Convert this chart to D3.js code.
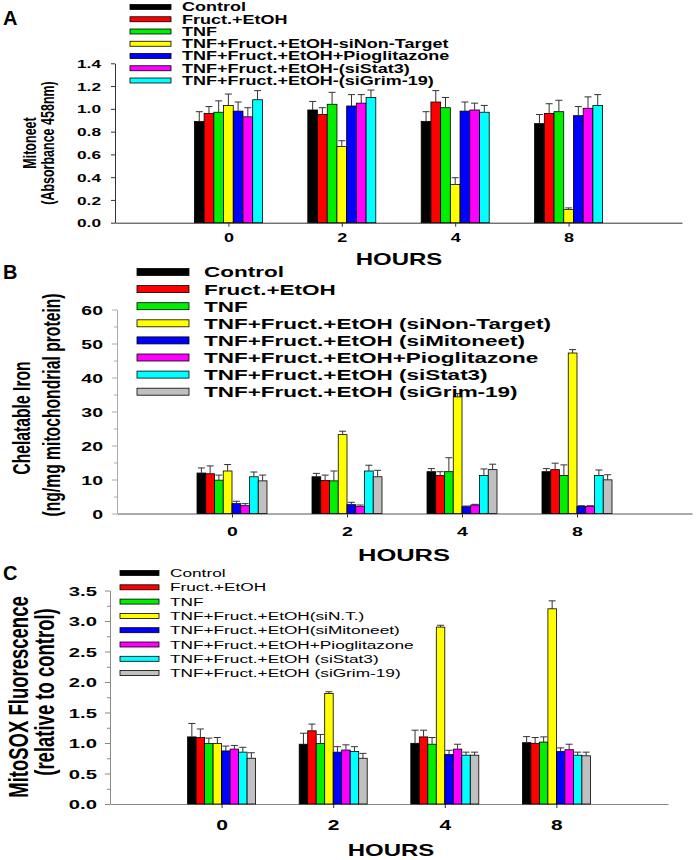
<!DOCTYPE html>
<html>
<head>
<meta charset="UTF-8">
<script src="https://d3js.org/d3.v7.min.js"></script>
<style>
  body { margin: 0; background: #fff; }
  svg text { font-family: "Liberation Sans", Arial, sans-serif; fill: #000; }
</style>
</head>
<body>
<script>
// ---- data ----
const hours = ["0", "2", "4", "8"];

// panel A : Mitoneet
const seriesA = ["Control", "Fruct.+EtOH", "TNF", "TNF+Fruct.+EtOH-siNon-Target",
  "TNF+Fruct.+EtOH+Pioglitazone", "TNF+Fruct.+EtOH-(siStat3)", "TNF+Fruct.+EtOH-(siGrim-19)"];
const colorsA = ["#000000", "#ff0000", "#00ee00", "#ffff00", "#0000ff", "#ff00ff", "#00ffff"];
const valuesA = [
  [0.89, 0.99, 0.89, 0.87],
  [0.96, 0.95, 1.06, 0.96],
  [0.97, 1.04, 1.01, 0.975],
  [1.03, 0.67, 0.335, 0.115],
  [0.98, 1.025, 0.98, 0.94],
  [0.93, 1.05, 0.99, 1.005],
  [1.08, 1.10, 0.97, 1.03]
];
const errorsA = [
  [0.085, 0.075, 0.085, 0.08],
  [0.06, 0.06, 0.10, 0.085],
  [0.10, 0.105, 0.09, 0.10],
  [0.10, 0.05, 0.06, 0.015],
  [0.08, 0.10, 0.08, 0.08],
  [0.08, 0.075, 0.06, 0.10],
  [0.08, 0.065, 0.06, 0.095]
];
const ticksA = [0, 0.2, 0.4, 0.6, 0.8, 1.0, 1.2, 1.4];

// panel B : chelatable iron
const seriesB = ["Control", "Fruct.+EtOH", "TNF", "TNF+Fruct.+EtOH (siNon-Target)",
  "TNF+Fruct.+EtOH (siMitoneet)", "TNF+Fruct.+EtOH+Pioglitazone",
  "TNF+Fruct.+EtOH (siStat3)", "TNF+Fruct.+EtOH (siGrim-19)"];
const colorsB = ["#000000", "#ff0000", "#00ee00", "#ffff00", "#0000ff", "#ff00ff", "#00ffff", "#c0c0c0"];
const valuesB = [
  [11.9, 10.8, 12.3, 12.3],
  [11.7, 9.7, 11.2, 12.9],
  [9.8, 9.6, 12.3, 11.2],
  [12.5, 23.2, 34.3, 47.2],
  [2.9, 2.6, 2.0, 2.1],
  [2.3, 2.1, 2.5, 2.1],
  [10.8, 12.5, 11.2, 11.2],
  [9.6, 10.8, 12.9, 9.9]
];
const errorsB = [
  [1.5, 1.0, 0.9, 0.9],
  [2.3, 1.6, 1.1, 1.9],
  [1.5, 2.9, 4.1, 3.1],
  [1.9, 1.0, 1.0, 1.0],
  [0.7, 0.7, 0.2, 0.2],
  [0.6, 0.4, 0.2, 0.2],
  [1.4, 1.7, 1.9, 1.6],
  [1.7, 1.9, 1.6, 1.5]
];
const ticksB = [0, 10, 20, 30, 40, 50, 60];
const minorB = [5, 15, 25, 35, 45, 55];

// panel C : MitoSOX
const seriesC = ["Control", "Fruct.+EtOH", "TNF", "TNF+Fruct.+EtOH(siN.T.)",
  "TNF+Fruct.+EtOH(siMitoneet)", "TNF+Fruct.+EtOH+Pioglitazone",
  "TNF+Fruct.+EtOH (siStat3)", "TNF+Fruct.+EtOH (siGrim-19)"];
const colorsC = colorsB;
const valuesC = [
  [1.10, 0.98, 0.995, 1.005],
  [1.09, 1.20, 1.10, 0.995],
  [0.99, 0.99, 0.98, 1.015],
  [0.99, 1.81, 2.90, 3.20],
  [0.87, 0.85, 0.81, 0.86],
  [0.90, 0.885, 0.90, 0.89],
  [0.85, 0.86, 0.80, 0.80],
  [0.75, 0.75, 0.80, 0.79]
];
const errorsC = [
  [0.22, 0.18, 0.215, 0.10],
  [0.14, 0.11, 0.11, 0.095],
  [0.09, 0.15, 0.11, 0.085],
  [0.10, 0.03, 0.03, 0.13],
  [0.08, 0.09, 0.07, 0.06],
  [0.06, 0.085, 0.08, 0.09],
  [0.08, 0.08, 0.05, 0.05],
  [0.09, 0.08, 0.05, 0.06]
];
const ticksC = [0, 0.5, 1.0, 1.5, 2.0, 2.5, 3.0, 3.5];
const minorC = [0.25, 0.75, 1.25, 1.75, 2.25, 2.75, 3.25];

// the figure is stretched sideways, text too
const sx = 1.5;

const svg = d3.select("body").append("svg")
  .attr("width", 696).attr("height", 860);

function hText(g, str, x, y, size, weight, anchor) {
  return g.append("text")
    .attr("transform", `translate(${x},${y}) scale(${sx},1)`)
    .attr("text-anchor", anchor)
    .attr("font-size", size)
    .attr("font-weight", weight)
    .text(str);
}

function panel(o) {
  const g = svg.append("g");
  const x = d3.scaleLinear().domain([0, 5]).range(o.xRange);
  const y = d3.scaleLinear().domain(o.yDomain).range(o.yRange);
  const inner = d3.scaleBand().domain(d3.range(o.series.length))
    .range([-o.groupW / 2, o.groupW / 2]);

  // axes
  const gx = g.append("g").attr("transform", `translate(0,${y(0)})`);
  gx.call(d3.axisBottom(x).tickValues([1, 2, 3, 4])
    .tickFormat(d => hours[d - 1]).tickSize(4).tickSizeOuter(0));
  gx.select(".domain").attr("stroke", o.axisColor).attr("stroke-width", o.xAxisW);
  gx.selectAll(".tick line").attr("stroke", "#333");
  gx.selectAll(".tick text")
    .attr("y", 0).attr("dy", "0.35em")
    .attr("transform", `translate(0,${o.xLabelOff}) scale(${sx},1)`)
    .attr("font-size", o.xLabelSize).attr("font-weight", "bold")
    .attr("font-family", null);

  const gy = g.append("g").attr("transform", `translate(${o.xRange[0]},0)`);
  if (o.minor) {
    gy.append("g").call(d3.axisLeft(y).tickValues(o.minor).tickFormat("").tickSize(o.minorSize))
      .call(s => s.select(".domain").remove())
      .selectAll("line").attr("stroke", o.axisColor);
  }
  gy.append("g").call(d3.axisLeft(y).tickValues(o.ticks).tickFormat(d3.format(o.fmt))
    .tickSize(o.tickSize).tickSizeOuter(0))
    .call(s => s.select(".domain").attr("stroke", o.axisColor))
    .call(s => s.selectAll(".tick line").attr("stroke", o.axisColor))
    .selectAll(".tick text")
    .attr("x", 0).attr("dy", "0.36em")
    .attr("transform", `translate(${-o.yLabelGap},0) scale(${sx},1)`)
    .attr("font-size", o.yLabelSize).attr("font-weight", "bold")
    .attr("font-family", null);

  // bars
  const rows = [];
  o.values.forEach((vals, s) => vals.forEach((v, h) => rows.push({ s, h, v, e: o.errors[s][h] })));
  const bw = inner.bandwidth();
  g.append("g").selectAll("rect").data(rows).join("rect")
    .attr("x", d => x(d.h + 1) + inner(d.s))
    .attr("y", d => y(d.v))
    .attr("width", bw)
    .attr("height", d => y(0) - y(d.v))
    .attr("fill", d => o.colors[d.s])
    .attr("stroke", "#000").attr("stroke-width", 0.8);

  // error bars (upper only)
  const ge = g.append("g").attr("stroke", "#333").attr("stroke-width", 1);
  ge.selectAll("line.v").data(rows).join("line").attr("class", "v")
    .attr("x1", d => x(d.h + 1) + inner(d.s) + bw / 2)
    .attr("x2", d => x(d.h + 1) + inner(d.s) + bw / 2)
    .attr("y1", d => y(d.v)).attr("y2", d => y(d.v + d.e));
  ge.selectAll("line.c").data(rows).join("line").attr("class", "c")
    .attr("x1", d => x(d.h + 1) + inner(d.s) + bw / 2 - 3.5)
    .attr("x2", d => x(d.h + 1) + inner(d.s) + bw / 2 + 3.5)
    .attr("y1", d => y(d.v + d.e)).attr("y2", d => y(d.v + d.e));

  // axis title
  hText(g, "HOURS", o.hours[0], o.hours[1], o.hoursSize, "bold", "middle").attr("dy", "0.35em");

  // y title, rotated
  o.yTitle.forEach(t => {
    g.append("text")
      .attr("transform", `translate(${t.x},${t.y}) scale(${sx},1) rotate(-90)`)
      .attr("text-anchor", "middle").attr("dy", "0.35em")
      .attr("font-size", o.yTitleSize).attr("font-weight", "bold")
      .text(t.text);
  });

  // legend
  const lg = g.append("g");
  o.series.forEach((name, i) => {
    const cy = o.legend.y0 + i * o.legend.step;
    lg.append("rect")
      .attr("x", o.legend.sx).attr("y", cy - o.legend.h / 2)
      .attr("width", o.legend.w).attr("height", o.legend.h)
      .attr("fill", o.colors[i]).attr("stroke", "#000").attr("stroke-width", 0.8);
    hText(lg, name, o.legend.tx, cy, o.legend.size, o.legend.weight, "start").attr("dy", "0.36em");
  });

  // panel letter
  g.append("text").attr("x", 3).attr("y", o.letterY)
    .attr("font-size", 20).attr("font-weight", "bold").text(o.letter);
}

panel({
  letter: "A", letterY: 25,
  series: seriesA, colors: colorsA, values: valuesA, errors: errorsA,
  xRange: [115, 682], yDomain: [0, 1.4], yRange: [222.7, 63.3], groupW: 68,
  ticks: ticksA, fmt: ".1f", tickSize: 4, yLabelGap: 14, yLabelSize: 11.5,
  axisColor: "#333", xAxisW: 1, xLabelOff: 15, xLabelSize: 12,
  hours: [399, 259], hoursSize: 16,
  yTitle: [{ text: "Mitoneet", x: 29, y: 143 }, { text: "(Absorbance 458nm)", x: 47, y: 143 }],
  yTitleSize: 12.5,
  legend: { sx: 130, w: 41, h: 5, tx: 182, y0: 7, step: 12.25, size: 12, weight: "bold" }
});

panel({
  letter: "B", letterY: 279,
  series: seriesB, colors: colorsB, values: valuesB, errors: errorsB,
  xRange: [117, 692], yDomain: [0, 60], yRange: [513.5, 309.5], groupW: 70,
  ticks: ticksB, minor: minorB, minorSize: 3, fmt: "d", tickSize: 5, yLabelGap: 14, yLabelSize: 13,
  axisColor: "#aaa", xAxisW: 2, xLabelOff: 18, xLabelSize: 13,
  hours: [404, 555], hoursSize: 17,
  yTitle: [{ text: "Chelatable Iron", x: 22, y: 418 }, { text: "(ng/mg mitochondrial protein)", x: 52, y: 405 }],
  yTitleSize: 15.7,
  legend: { sx: 137, w: 52, h: 7, tx: 204, y0: 272, step: 17.1, size: 15, weight: "bold" }
});

panel({
  letter: "C", letterY: 580,
  series: seriesC, colors: colorsC, values: valuesC, errors: errorsC,
  xRange: [110, 668], yDomain: [0, 3.5], yRange: [804, 590.5], groupW: 68,
  ticks: ticksC, minor: minorC, minorSize: 3, fmt: ".1f", tickSize: 5, yLabelGap: 13, yLabelSize: 13.5,
  axisColor: "#888", xAxisW: 1, xLabelOff: 21, xLabelSize: 14,
  hours: [391, 850], hoursSize: 16,
  yTitle: [{ text: "MitoSOX Fluorescence", x: 18, y: 697 }, { text: "(relative to control)", x: 44, y: 692 }],
  yTitleSize: 18.5,
  legend: { sx: 120, w: 39, h: 5, tx: 170, y0: 573, step: 14.3, size: 11.5, weight: "normal" }
});
</script>
</body>
</html>
